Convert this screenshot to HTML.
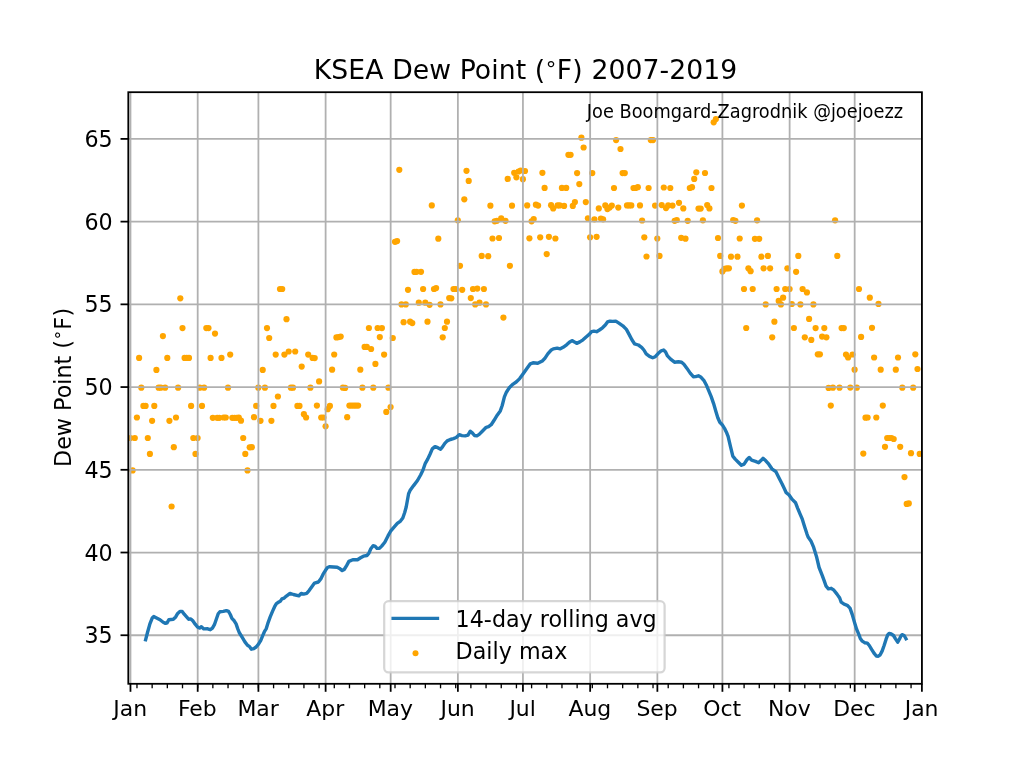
<!DOCTYPE html>
<html lang="en"><head><meta charset="utf-8"><title>KSEA Dew Point</title>
<style>html,body{margin:0;padding:0;background:#fff;overflow:hidden}svg{display:block}text{font-family:'DejaVu Sans','Liberation Sans',sans-serif;fill:#000}</style></head><body>
<svg width="1024" height="768" viewBox="0 0 1024 768">
<rect width="1024" height="768" fill="#fff"/>
<clipPath id="c"><rect x="128.30" y="92.20" width="793.60" height="591.60"/></clipPath>
<g clip-path="url(#c)" fill="#ffa500">
<circle cx="130.4" cy="438.0" r="3.1"/>
<circle cx="132.6" cy="470.4" r="3.1"/>
<circle cx="134.8" cy="438.0" r="3.1"/>
<circle cx="136.9" cy="417.5" r="3.1"/>
<circle cx="139.1" cy="357.9" r="3.1"/>
<circle cx="141.3" cy="387.7" r="3.1"/>
<circle cx="143.4" cy="405.9" r="3.1"/>
<circle cx="145.6" cy="405.9" r="3.1"/>
<circle cx="147.8" cy="438.0" r="3.1"/>
<circle cx="149.9" cy="453.9" r="3.1"/>
<circle cx="152.1" cy="420.8" r="3.1"/>
<circle cx="154.3" cy="405.9" r="3.1"/>
<circle cx="156.4" cy="369.9" r="3.1"/>
<circle cx="158.6" cy="387.7" r="3.1"/>
<circle cx="160.8" cy="387.7" r="3.1"/>
<circle cx="162.9" cy="336.1" r="3.1"/>
<circle cx="165.1" cy="387.7" r="3.1"/>
<circle cx="167.3" cy="357.9" r="3.1"/>
<circle cx="169.4" cy="420.8" r="3.1"/>
<circle cx="171.6" cy="506.5" r="3.1"/>
<circle cx="173.8" cy="447.2" r="3.1"/>
<circle cx="176.0" cy="417.5" r="3.1"/>
<circle cx="178.1" cy="387.7" r="3.1"/>
<circle cx="180.3" cy="298.3" r="3.1"/>
<circle cx="182.5" cy="328.1" r="3.1"/>
<circle cx="184.6" cy="357.9" r="3.1"/>
<circle cx="186.8" cy="357.9" r="3.1"/>
<circle cx="189.0" cy="357.9" r="3.1"/>
<circle cx="191.1" cy="405.9" r="3.1"/>
<circle cx="193.3" cy="438.0" r="3.1"/>
<circle cx="195.5" cy="453.9" r="3.1"/>
<circle cx="197.6" cy="438.0" r="3.1"/>
<circle cx="199.8" cy="387.7" r="3.1"/>
<circle cx="202.0" cy="405.9" r="3.1"/>
<circle cx="204.1" cy="387.7" r="3.1"/>
<circle cx="206.3" cy="328.1" r="3.1"/>
<circle cx="208.5" cy="328.1" r="3.1"/>
<circle cx="210.6" cy="357.9" r="3.1"/>
<circle cx="212.8" cy="417.8" r="3.1"/>
<circle cx="215.0" cy="333.6" r="3.1"/>
<circle cx="217.2" cy="417.8" r="3.1"/>
<circle cx="219.3" cy="417.8" r="3.1"/>
<circle cx="221.5" cy="357.9" r="3.1"/>
<circle cx="223.7" cy="417.5" r="3.1"/>
<circle cx="225.8" cy="417.5" r="3.1"/>
<circle cx="228.0" cy="387.7" r="3.1"/>
<circle cx="230.2" cy="354.6" r="3.1"/>
<circle cx="232.3" cy="417.8" r="3.1"/>
<circle cx="234.5" cy="417.8" r="3.1"/>
<circle cx="236.7" cy="417.8" r="3.1"/>
<circle cx="238.8" cy="417.5" r="3.1"/>
<circle cx="241.0" cy="420.7" r="3.1"/>
<circle cx="243.2" cy="438.0" r="3.1"/>
<circle cx="245.3" cy="453.9" r="3.1"/>
<circle cx="247.5" cy="470.4" r="3.1"/>
<circle cx="249.7" cy="447.3" r="3.1"/>
<circle cx="251.8" cy="447.2" r="3.1"/>
<circle cx="254.0" cy="417.2" r="3.1"/>
<circle cx="256.2" cy="405.9" r="3.1"/>
<circle cx="258.3" cy="387.7" r="3.1"/>
<circle cx="260.5" cy="420.8" r="3.1"/>
<circle cx="262.7" cy="369.9" r="3.1"/>
<circle cx="264.9" cy="387.7" r="3.1"/>
<circle cx="267.0" cy="328.1" r="3.1"/>
<circle cx="269.2" cy="338.0" r="3.1"/>
<circle cx="271.4" cy="420.8" r="3.1"/>
<circle cx="273.5" cy="405.9" r="3.1"/>
<circle cx="275.7" cy="354.6" r="3.1"/>
<circle cx="277.9" cy="396.5" r="3.1"/>
<circle cx="280.0" cy="289.0" r="3.1"/>
<circle cx="282.2" cy="289.0" r="3.1"/>
<circle cx="284.4" cy="354.6" r="3.1"/>
<circle cx="286.5" cy="319.2" r="3.1"/>
<circle cx="288.7" cy="351.5" r="3.1"/>
<circle cx="290.9" cy="387.7" r="3.1"/>
<circle cx="293.0" cy="387.7" r="3.1"/>
<circle cx="295.2" cy="351.5" r="3.1"/>
<circle cx="297.4" cy="405.9" r="3.1"/>
<circle cx="299.5" cy="405.9" r="3.1"/>
<circle cx="301.7" cy="366.6" r="3.1"/>
<circle cx="303.9" cy="414.2" r="3.1"/>
<circle cx="306.1" cy="417.5" r="3.1"/>
<circle cx="308.2" cy="354.6" r="3.1"/>
<circle cx="310.4" cy="387.7" r="3.1"/>
<circle cx="312.6" cy="357.9" r="3.1"/>
<circle cx="314.7" cy="358.1" r="3.1"/>
<circle cx="316.9" cy="405.6" r="3.1"/>
<circle cx="319.1" cy="381.4" r="3.1"/>
<circle cx="321.2" cy="417.5" r="3.1"/>
<circle cx="323.4" cy="417.5" r="3.1"/>
<circle cx="325.6" cy="426.3" r="3.1"/>
<circle cx="327.7" cy="409.2" r="3.1"/>
<circle cx="329.9" cy="405.9" r="3.1"/>
<circle cx="332.1" cy="369.7" r="3.1"/>
<circle cx="334.2" cy="354.5" r="3.1"/>
<circle cx="336.4" cy="337.4" r="3.1"/>
<circle cx="338.6" cy="337.1" r="3.1"/>
<circle cx="340.7" cy="336.6" r="3.1"/>
<circle cx="342.9" cy="387.7" r="3.1"/>
<circle cx="345.1" cy="387.9" r="3.1"/>
<circle cx="347.2" cy="417.2" r="3.1"/>
<circle cx="349.4" cy="405.6" r="3.1"/>
<circle cx="351.6" cy="405.6" r="3.1"/>
<circle cx="353.8" cy="405.6" r="3.1"/>
<circle cx="355.9" cy="405.6" r="3.1"/>
<circle cx="358.1" cy="405.6" r="3.1"/>
<circle cx="360.3" cy="369.7" r="3.1"/>
<circle cx="362.4" cy="387.7" r="3.1"/>
<circle cx="364.6" cy="346.9" r="3.1"/>
<circle cx="366.8" cy="346.9" r="3.1"/>
<circle cx="368.9" cy="328.0" r="3.1"/>
<circle cx="371.1" cy="349.0" r="3.1"/>
<circle cx="373.3" cy="387.7" r="3.1"/>
<circle cx="375.4" cy="363.9" r="3.1"/>
<circle cx="377.6" cy="328.0" r="3.1"/>
<circle cx="379.8" cy="337.1" r="3.1"/>
<circle cx="381.9" cy="328.1" r="3.1"/>
<circle cx="384.1" cy="354.6" r="3.1"/>
<circle cx="386.3" cy="411.9" r="3.1"/>
<circle cx="388.4" cy="387.7" r="3.1"/>
<circle cx="390.6" cy="407.1" r="3.1"/>
<circle cx="392.8" cy="338.0" r="3.1"/>
<circle cx="395.0" cy="241.8" r="3.1"/>
<circle cx="397.1" cy="241.1" r="3.1"/>
<circle cx="399.3" cy="169.8" r="3.1"/>
<circle cx="401.5" cy="304.4" r="3.1"/>
<circle cx="403.6" cy="322.2" r="3.1"/>
<circle cx="405.8" cy="304.4" r="3.1"/>
<circle cx="408.0" cy="289.8" r="3.1"/>
<circle cx="410.1" cy="321.7" r="3.1"/>
<circle cx="412.3" cy="323.1" r="3.1"/>
<circle cx="414.5" cy="271.9" r="3.1"/>
<circle cx="416.6" cy="271.8" r="3.1"/>
<circle cx="418.8" cy="302.7" r="3.1"/>
<circle cx="421.0" cy="271.8" r="3.1"/>
<circle cx="423.1" cy="289.0" r="3.1"/>
<circle cx="425.3" cy="302.7" r="3.1"/>
<circle cx="427.5" cy="321.7" r="3.1"/>
<circle cx="429.6" cy="304.8" r="3.1"/>
<circle cx="431.8" cy="205.4" r="3.1"/>
<circle cx="434.0" cy="289.0" r="3.1"/>
<circle cx="436.1" cy="288.1" r="3.1"/>
<circle cx="438.3" cy="238.7" r="3.1"/>
<circle cx="440.5" cy="304.4" r="3.1"/>
<circle cx="442.7" cy="337.3" r="3.1"/>
<circle cx="444.8" cy="328.0" r="3.1"/>
<circle cx="447.0" cy="321.7" r="3.1"/>
<circle cx="449.2" cy="298.1" r="3.1"/>
<circle cx="451.3" cy="298.3" r="3.1"/>
<circle cx="453.5" cy="289.0" r="3.1"/>
<circle cx="455.7" cy="289.0" r="3.1"/>
<circle cx="457.8" cy="220.3" r="3.1"/>
<circle cx="460.0" cy="265.8" r="3.1"/>
<circle cx="462.2" cy="289.8" r="3.1"/>
<circle cx="464.3" cy="199.3" r="3.1"/>
<circle cx="466.5" cy="170.8" r="3.1"/>
<circle cx="468.7" cy="180.9" r="3.1"/>
<circle cx="470.8" cy="298.1" r="3.1"/>
<circle cx="473.0" cy="289.0" r="3.1"/>
<circle cx="475.2" cy="304.4" r="3.1"/>
<circle cx="477.3" cy="288.6" r="3.1"/>
<circle cx="479.5" cy="302.7" r="3.1"/>
<circle cx="481.7" cy="255.9" r="3.1"/>
<circle cx="483.9" cy="289.0" r="3.1"/>
<circle cx="486.0" cy="304.4" r="3.1"/>
<circle cx="488.2" cy="256.2" r="3.1"/>
<circle cx="490.4" cy="205.7" r="3.1"/>
<circle cx="492.5" cy="238.5" r="3.1"/>
<circle cx="494.7" cy="221.3" r="3.1"/>
<circle cx="496.9" cy="220.8" r="3.1"/>
<circle cx="499.0" cy="238.0" r="3.1"/>
<circle cx="501.2" cy="218.3" r="3.1"/>
<circle cx="503.4" cy="317.6" r="3.1"/>
<circle cx="505.5" cy="220.8" r="3.1"/>
<circle cx="507.7" cy="178.9" r="3.1"/>
<circle cx="509.9" cy="265.8" r="3.1"/>
<circle cx="512.0" cy="205.7" r="3.1"/>
<circle cx="514.2" cy="172.8" r="3.1"/>
<circle cx="516.4" cy="177.3" r="3.1"/>
<circle cx="518.5" cy="171.5" r="3.1"/>
<circle cx="520.7" cy="170.5" r="3.1"/>
<circle cx="522.9" cy="179.2" r="3.1"/>
<circle cx="525.0" cy="171.0" r="3.1"/>
<circle cx="527.2" cy="205.4" r="3.1"/>
<circle cx="529.4" cy="238.3" r="3.1"/>
<circle cx="531.6" cy="221.3" r="3.1"/>
<circle cx="533.7" cy="219.0" r="3.1"/>
<circle cx="535.9" cy="204.7" r="3.1"/>
<circle cx="538.1" cy="205.6" r="3.1"/>
<circle cx="540.2" cy="237.3" r="3.1"/>
<circle cx="542.4" cy="172.8" r="3.1"/>
<circle cx="544.6" cy="187.9" r="3.1"/>
<circle cx="546.7" cy="254.1" r="3.1"/>
<circle cx="548.9" cy="236.8" r="3.1"/>
<circle cx="551.1" cy="205.2" r="3.1"/>
<circle cx="553.2" cy="208.4" r="3.1"/>
<circle cx="555.4" cy="238.5" r="3.1"/>
<circle cx="557.6" cy="205.4" r="3.1"/>
<circle cx="559.7" cy="205.4" r="3.1"/>
<circle cx="561.9" cy="187.9" r="3.1"/>
<circle cx="564.1" cy="205.9" r="3.1"/>
<circle cx="566.2" cy="187.9" r="3.1"/>
<circle cx="568.4" cy="154.8" r="3.1"/>
<circle cx="570.6" cy="154.8" r="3.1"/>
<circle cx="572.8" cy="205.9" r="3.1"/>
<circle cx="574.9" cy="202.1" r="3.1"/>
<circle cx="577.1" cy="173.1" r="3.1"/>
<circle cx="579.3" cy="184.1" r="3.1"/>
<circle cx="581.4" cy="137.7" r="3.1"/>
<circle cx="583.6" cy="147.5" r="3.1"/>
<circle cx="585.8" cy="202.1" r="3.1"/>
<circle cx="587.9" cy="218.3" r="3.1"/>
<circle cx="590.1" cy="237.3" r="3.1"/>
<circle cx="592.3" cy="173.1" r="3.1"/>
<circle cx="594.4" cy="219.3" r="3.1"/>
<circle cx="596.6" cy="236.8" r="3.1"/>
<circle cx="598.8" cy="208.4" r="3.1"/>
<circle cx="600.9" cy="218.5" r="3.1"/>
<circle cx="603.1" cy="219.3" r="3.1"/>
<circle cx="605.3" cy="205.4" r="3.1"/>
<circle cx="607.4" cy="209.1" r="3.1"/>
<circle cx="609.6" cy="207.6" r="3.1"/>
<circle cx="611.8" cy="205.6" r="3.1"/>
<circle cx="614.0" cy="188.0" r="3.1"/>
<circle cx="616.1" cy="140.1" r="3.1"/>
<circle cx="618.3" cy="207.6" r="3.1"/>
<circle cx="620.5" cy="149.0" r="3.1"/>
<circle cx="622.6" cy="173.1" r="3.1"/>
<circle cx="624.8" cy="173.1" r="3.1"/>
<circle cx="627.0" cy="205.4" r="3.1"/>
<circle cx="629.1" cy="205.4" r="3.1"/>
<circle cx="631.3" cy="205.4" r="3.1"/>
<circle cx="633.5" cy="188.0" r="3.1"/>
<circle cx="635.6" cy="188.0" r="3.1"/>
<circle cx="637.8" cy="187.2" r="3.1"/>
<circle cx="640.0" cy="205.4" r="3.1"/>
<circle cx="642.1" cy="220.5" r="3.1"/>
<circle cx="644.3" cy="237.3" r="3.1"/>
<circle cx="646.5" cy="256.5" r="3.1"/>
<circle cx="648.6" cy="188.0" r="3.1"/>
<circle cx="650.8" cy="140.1" r="3.1"/>
<circle cx="653.0" cy="140.1" r="3.1"/>
<circle cx="655.1" cy="205.6" r="3.1"/>
<circle cx="657.3" cy="238.5" r="3.1"/>
<circle cx="659.5" cy="255.9" r="3.1"/>
<circle cx="661.7" cy="205.1" r="3.1"/>
<circle cx="663.8" cy="187.5" r="3.1"/>
<circle cx="666.0" cy="208.1" r="3.1"/>
<circle cx="668.2" cy="205.4" r="3.1"/>
<circle cx="670.3" cy="188.0" r="3.1"/>
<circle cx="672.5" cy="205.6" r="3.1"/>
<circle cx="674.7" cy="220.8" r="3.1"/>
<circle cx="676.8" cy="220.0" r="3.1"/>
<circle cx="679.0" cy="202.8" r="3.1"/>
<circle cx="681.2" cy="237.8" r="3.1"/>
<circle cx="683.3" cy="208.4" r="3.1"/>
<circle cx="685.5" cy="238.7" r="3.1"/>
<circle cx="687.7" cy="220.8" r="3.1"/>
<circle cx="689.8" cy="188.0" r="3.1"/>
<circle cx="692.0" cy="187.2" r="3.1"/>
<circle cx="694.2" cy="178.9" r="3.1"/>
<circle cx="696.3" cy="172.3" r="3.1"/>
<circle cx="698.5" cy="208.6" r="3.1"/>
<circle cx="700.7" cy="208.6" r="3.1"/>
<circle cx="702.9" cy="220.3" r="3.1"/>
<circle cx="705.0" cy="173.0" r="3.1"/>
<circle cx="707.2" cy="205.1" r="3.1"/>
<circle cx="709.4" cy="208.4" r="3.1"/>
<circle cx="711.5" cy="188.0" r="3.1"/>
<circle cx="713.7" cy="122.3" r="3.1"/>
<circle cx="715.9" cy="119.0" r="3.1"/>
<circle cx="718.0" cy="238.0" r="3.1"/>
<circle cx="720.2" cy="255.9" r="3.1"/>
<circle cx="722.4" cy="271.4" r="3.1"/>
<circle cx="724.5" cy="268.8" r="3.1"/>
<circle cx="726.7" cy="268.4" r="3.1"/>
<circle cx="728.9" cy="268.3" r="3.1"/>
<circle cx="731.0" cy="256.7" r="3.1"/>
<circle cx="733.2" cy="220.0" r="3.1"/>
<circle cx="735.4" cy="220.8" r="3.1"/>
<circle cx="737.5" cy="256.7" r="3.1"/>
<circle cx="739.7" cy="238.5" r="3.1"/>
<circle cx="741.9" cy="205.6" r="3.1"/>
<circle cx="744.0" cy="289.0" r="3.1"/>
<circle cx="746.2" cy="328.0" r="3.1"/>
<circle cx="748.4" cy="268.3" r="3.1"/>
<circle cx="750.6" cy="271.2" r="3.1"/>
<circle cx="752.7" cy="289.0" r="3.1"/>
<circle cx="754.9" cy="238.8" r="3.1"/>
<circle cx="757.1" cy="220.3" r="3.1"/>
<circle cx="759.2" cy="238.8" r="3.1"/>
<circle cx="761.4" cy="256.7" r="3.1"/>
<circle cx="763.6" cy="268.3" r="3.1"/>
<circle cx="765.7" cy="304.4" r="3.1"/>
<circle cx="767.9" cy="255.9" r="3.1"/>
<circle cx="770.1" cy="268.3" r="3.1"/>
<circle cx="772.2" cy="337.3" r="3.1"/>
<circle cx="774.4" cy="321.7" r="3.1"/>
<circle cx="776.6" cy="289.0" r="3.1"/>
<circle cx="778.7" cy="300.9" r="3.1"/>
<circle cx="780.9" cy="304.4" r="3.1"/>
<circle cx="783.1" cy="297.7" r="3.1"/>
<circle cx="785.2" cy="289.0" r="3.1"/>
<circle cx="787.4" cy="268.3" r="3.1"/>
<circle cx="789.6" cy="289.0" r="3.1"/>
<circle cx="791.8" cy="304.0" r="3.1"/>
<circle cx="793.9" cy="328.0" r="3.1"/>
<circle cx="796.1" cy="271.8" r="3.1"/>
<circle cx="798.3" cy="255.9" r="3.1"/>
<circle cx="800.4" cy="304.4" r="3.1"/>
<circle cx="802.6" cy="289.0" r="3.1"/>
<circle cx="804.8" cy="337.3" r="3.1"/>
<circle cx="806.9" cy="292.4" r="3.1"/>
<circle cx="809.1" cy="318.9" r="3.1"/>
<circle cx="811.3" cy="339.9" r="3.1"/>
<circle cx="813.4" cy="304.4" r="3.1"/>
<circle cx="815.6" cy="328.1" r="3.1"/>
<circle cx="817.8" cy="354.3" r="3.1"/>
<circle cx="819.9" cy="354.3" r="3.1"/>
<circle cx="822.1" cy="336.6" r="3.1"/>
<circle cx="824.3" cy="328.1" r="3.1"/>
<circle cx="826.4" cy="337.3" r="3.1"/>
<circle cx="828.6" cy="387.9" r="3.1"/>
<circle cx="830.8" cy="405.6" r="3.1"/>
<circle cx="832.9" cy="387.7" r="3.1"/>
<circle cx="835.1" cy="220.3" r="3.1"/>
<circle cx="837.3" cy="255.9" r="3.1"/>
<circle cx="839.5" cy="387.7" r="3.1"/>
<circle cx="841.6" cy="328.1" r="3.1"/>
<circle cx="843.8" cy="328.1" r="3.1"/>
<circle cx="846.0" cy="354.5" r="3.1"/>
<circle cx="848.1" cy="357.5" r="3.1"/>
<circle cx="850.3" cy="387.6" r="3.1"/>
<circle cx="852.5" cy="354.5" r="3.1"/>
<circle cx="854.6" cy="369.7" r="3.1"/>
<circle cx="856.8" cy="387.7" r="3.1"/>
<circle cx="859.0" cy="289.0" r="3.1"/>
<circle cx="861.1" cy="336.9" r="3.1"/>
<circle cx="863.3" cy="453.6" r="3.1"/>
<circle cx="865.5" cy="417.7" r="3.1"/>
<circle cx="867.6" cy="417.5" r="3.1"/>
<circle cx="869.8" cy="297.7" r="3.1"/>
<circle cx="872.0" cy="327.8" r="3.1"/>
<circle cx="874.1" cy="357.5" r="3.1"/>
<circle cx="876.3" cy="417.5" r="3.1"/>
<circle cx="878.5" cy="303.9" r="3.1"/>
<circle cx="880.7" cy="369.7" r="3.1"/>
<circle cx="882.8" cy="405.6" r="3.1"/>
<circle cx="885.0" cy="446.8" r="3.1"/>
<circle cx="887.2" cy="438.0" r="3.1"/>
<circle cx="889.3" cy="438.0" r="3.1"/>
<circle cx="891.5" cy="438.0" r="3.1"/>
<circle cx="893.7" cy="439.0" r="3.1"/>
<circle cx="895.8" cy="369.7" r="3.1"/>
<circle cx="898.0" cy="357.5" r="3.1"/>
<circle cx="900.2" cy="446.8" r="3.1"/>
<circle cx="902.3" cy="387.7" r="3.1"/>
<circle cx="904.5" cy="477.1" r="3.1"/>
<circle cx="906.7" cy="503.9" r="3.1"/>
<circle cx="908.8" cy="503.4" r="3.1"/>
<circle cx="911.0" cy="453.2" r="3.1"/>
<circle cx="913.2" cy="387.7" r="3.1"/>
<circle cx="915.3" cy="354.3" r="3.1"/>
<circle cx="917.5" cy="369.0" r="3.1"/>
<circle cx="919.7" cy="453.9" r="3.1"/>
</g>
<g stroke="#b0b0b0" stroke-width="1.78" fill="none">
<line x1="130.47" y1="92.20" x2="130.47" y2="683.80"/>
<line x1="197.69" y1="92.20" x2="197.69" y2="683.80"/>
<line x1="258.40" y1="92.20" x2="258.40" y2="683.80"/>
<line x1="325.62" y1="92.20" x2="325.62" y2="683.80"/>
<line x1="390.67" y1="92.20" x2="390.67" y2="683.80"/>
<line x1="457.88" y1="92.20" x2="457.88" y2="683.80"/>
<line x1="522.93" y1="92.20" x2="522.93" y2="683.80"/>
<line x1="590.15" y1="92.20" x2="590.15" y2="683.80"/>
<line x1="657.37" y1="92.20" x2="657.37" y2="683.80"/>
<line x1="722.42" y1="92.20" x2="722.42" y2="683.80"/>
<line x1="789.63" y1="92.20" x2="789.63" y2="683.80"/>
<line x1="854.68" y1="92.20" x2="854.68" y2="683.80"/>
<line x1="921.90" y1="92.20" x2="921.90" y2="683.80"/>
<line x1="128.30" y1="635.25" x2="921.90" y2="635.25"/>
<line x1="128.30" y1="552.52" x2="921.90" y2="552.52"/>
<line x1="128.30" y1="469.80" x2="921.90" y2="469.80"/>
<line x1="128.30" y1="387.07" x2="921.90" y2="387.07"/>
<line x1="128.30" y1="304.35" x2="921.90" y2="304.35"/>
<line x1="128.30" y1="221.62" x2="921.90" y2="221.62"/>
<line x1="128.30" y1="138.90" x2="921.90" y2="138.90"/>
</g>
<polyline clip-path="url(#c)" points="145.2,641.4 147.5,632.5 149.9,623.9 152.2,618.1 153.8,616.6 156.1,617.7 160.0,619.7 163.2,622.3 165.5,623.4 167.1,622.8 168.9,619.7 173.3,619.2 175.7,616.9 177.7,613.4 179.9,611.4 182.2,611.4 184.2,614.2 186.6,616.9 188.6,619.2 190.8,618.9 192.8,620.8 195.2,624.2 197.5,627.0 199.6,628.1 201.4,626.7 203.8,628.9 207.7,628.8 210.3,629.7 212.4,628.1 214.4,624.7 216.3,619.2 218.2,613.8 219.9,611.7 223.3,611.4 226.4,610.6 228.5,611.4 230.3,614.5 231.9,618.4 234.2,620.8 236.1,623.9 237.7,628.6 239.2,632.5 242.1,637.2 244.9,641.9 247.5,645.3 249.6,646.6 251.4,649.2 253.8,648.6 256.1,647.0 258.5,644.2 260.8,640.3 262.7,635.6 264.4,631.7 266.3,628.6 268.2,622.3 270.2,616.9 272.5,611.4 274.6,606.7 276.4,603.6 278.8,602.0 280.3,601.2 281.9,598.9 284.2,598.1 286.4,596.1 290.0,593.4 293.4,594.5 298.9,595.8 301.2,593.4 303.6,594.1 306.7,593.3 309.1,590.6 312.2,586.2 314.5,583.1 318.4,582.0 320.8,578.9 323.1,574.2 325.5,570.3 327.5,567.5 329.7,566.7 337.2,567.2 339.5,568.4 342.2,570.6 344.2,569.5 346.6,565.6 348.9,561.4 352.8,559.7 357.5,559.8 360.6,557.8 363.4,556.2 366.9,555.5 368.8,553.4 370.8,548.8 373.1,545.8 375.0,546.1 377.0,548.4 379.4,548.4 381.7,546.1 384.8,542.2 388.0,535.9 390.6,531.2 393.4,527.8 397.3,523.4 400.5,521.1 402.8,518.0 404.7,512.5 406.2,507.0 408.6,493.8 410.0,490.6 413.6,485.6 417.5,480.5 420.6,475.0 423.0,470.0 425.3,463.3 427.7,459.1 430.0,454.2 432.3,448.9 435.0,446.6 437.8,447.7 440.6,449.2 442.5,446.9 444.8,443.4 447.2,440.9 450.3,439.5 453.4,438.6 456.2,437.5 459.2,434.7 462.0,435.6 465.2,435.9 468.0,435.2 470.3,431.2 472.5,433.1 474.5,435.5 476.9,435.9 479.2,434.4 482.3,431.2 486.2,427.3 488.6,426.6 491.2,424.7 494.1,420.3 497.2,415.2 500.3,410.9 502.2,405.5 504.4,396.9 506.4,392.2 509.5,387.5 513.1,384.1 516.2,382.0 519.7,378.6 522.8,374.2 526.7,368.8 530.3,363.8 533.0,362.8 537.7,363.3 542.3,360.9 544.7,358.6 547.8,353.9 550.9,350.3 553.3,348.9 557.2,348.1 560.3,348.8 563.1,347.3 566.6,344.8 569.4,342.2 572.0,340.6 574.4,341.9 576.7,343.4 579.8,341.9 583.0,339.8 586.1,337.0 589.2,334.4 591.6,331.7 593.9,331.2 596.6,331.7 599.4,330.0 602.5,327.8 605.3,325.0 607.5,321.9 610.0,321.1 612.7,321.4 615.8,321.1 618.9,323.1 622.8,325.8 626.4,329.4 629.1,334.4 631.9,339.8 634.5,343.8 638.4,345.0 641.6,347.3 643.9,350.0 646.2,353.9 649.5,356.4 652.7,357.8 655.3,356.7 658.1,353.6 661.2,350.8 663.6,350.0 665.6,352.0 667.5,355.9 670.6,359.1 674.5,362.2 678.4,361.7 681.6,362.2 683.9,364.2 687.0,368.4 690.2,373.1 693.3,376.7 695.6,376.6 698.4,375.8 701.1,377.3 704.2,380.9 706.6,385.6 708.9,391.1 711.2,396.6 713.6,403.6 715.9,411.4 717.8,417.7 719.8,422.3 722.2,424.7 724.5,428.3 726.9,433.3 728.1,436.4 730.5,446.6 732.8,456.2 735.2,459.1 738.3,462.2 741.4,465.3 744.1,464.1 746.9,459.8 749.2,457.5 751.6,460.2 755.5,461.4 758.6,462.7 760.9,460.6 763.0,458.3 765.6,460.6 768.8,464.2 771.9,468.8 775.8,471.6 778.9,477.8 782.0,483.8 784.4,488.8 786.2,492.7 789.1,495.0 792.2,499.4 795.6,502.8 797.7,508.3 800.0,513.8 802.3,519.2 804.7,527.0 807.0,534.1 808.1,537.0 810.9,540.9 813.6,547.2 816.7,557.3 819.1,567.5 822.2,575.3 824.5,581.6 826.1,586.2 828.4,588.9 831.2,588.3 833.9,590.2 837.0,594.1 839.7,598.0 841.2,602.2 844.1,604.2 847.2,605.3 850.0,608.1 852.2,614.4 854.2,621.4 856.6,629.2 858.9,634.7 860.3,638.4 862.3,641.2 864.6,642.7 867.3,643.1 869.3,645.5 871.6,649.4 874.4,653.7 876.3,656.0 878.3,656.2 880.2,654.8 882.2,650.9 884.1,645.5 886.1,639.2 887.7,634.9 889.1,633.4 891.2,634.0 893.5,635.5 895.5,638.8 897.7,642.2 899.4,639.2 900.9,636.1 902.1,634.7 904.1,635.5 905.6,638.0 906.8,640.2" fill="none" stroke="#1f77b4" stroke-width="3.4" stroke-linejoin="round" stroke-linecap="butt"/>
<text transform="translate(903.05,118.35) scale(1,1.06)" text-anchor="end" font-size="17.78">Joe Boomgard-Zagrodnik @joejoezz</text>
<rect x="128.30" y="92.20" width="793.60" height="591.60" fill="none" stroke="#000" stroke-width="1.78"/>
<g stroke="#000" stroke-width="1.78">
<line x1="130.47" y1="683.80" x2="130.47" y2="691.80"/>
<line x1="197.69" y1="683.80" x2="197.69" y2="691.80"/>
<line x1="258.40" y1="683.80" x2="258.40" y2="691.80"/>
<line x1="325.62" y1="683.80" x2="325.62" y2="691.80"/>
<line x1="390.67" y1="683.80" x2="390.67" y2="691.80"/>
<line x1="457.88" y1="683.80" x2="457.88" y2="691.80"/>
<line x1="522.93" y1="683.80" x2="522.93" y2="691.80"/>
<line x1="590.15" y1="683.80" x2="590.15" y2="691.80"/>
<line x1="657.37" y1="683.80" x2="657.37" y2="691.80"/>
<line x1="722.42" y1="683.80" x2="722.42" y2="691.80"/>
<line x1="789.63" y1="683.80" x2="789.63" y2="691.80"/>
<line x1="854.68" y1="683.80" x2="854.68" y2="691.80"/>
<line x1="921.90" y1="683.80" x2="921.90" y2="691.80"/>
<line x1="120.52" y1="635.25" x2="128.30" y2="635.25"/>
<line x1="120.52" y1="552.52" x2="128.30" y2="552.52"/>
<line x1="120.52" y1="469.80" x2="128.30" y2="469.80"/>
<line x1="120.52" y1="387.07" x2="128.30" y2="387.07"/>
<line x1="120.52" y1="304.35" x2="128.30" y2="304.35"/>
<line x1="120.52" y1="221.62" x2="128.30" y2="221.62"/>
<line x1="120.52" y1="138.90" x2="128.30" y2="138.90"/>
</g>
<g stroke="#000" stroke-width="1.33">
<line x1="136.97" y1="683.80" x2="136.97" y2="688.30"/>
<line x1="152.15" y1="683.80" x2="152.15" y2="688.30"/>
<line x1="167.33" y1="683.80" x2="167.33" y2="688.30"/>
<line x1="182.51" y1="683.80" x2="182.51" y2="688.30"/>
<line x1="197.69" y1="683.80" x2="197.69" y2="688.30"/>
<line x1="212.86" y1="683.80" x2="212.86" y2="688.30"/>
<line x1="228.04" y1="683.80" x2="228.04" y2="688.30"/>
<line x1="243.22" y1="683.80" x2="243.22" y2="688.30"/>
<line x1="258.40" y1="683.80" x2="258.40" y2="688.30"/>
<line x1="273.58" y1="683.80" x2="273.58" y2="688.30"/>
<line x1="288.75" y1="683.80" x2="288.75" y2="688.30"/>
<line x1="303.93" y1="683.80" x2="303.93" y2="688.30"/>
<line x1="319.11" y1="683.80" x2="319.11" y2="688.30"/>
<line x1="334.29" y1="683.80" x2="334.29" y2="688.30"/>
<line x1="349.47" y1="683.80" x2="349.47" y2="688.30"/>
<line x1="364.65" y1="683.80" x2="364.65" y2="688.30"/>
<line x1="379.82" y1="683.80" x2="379.82" y2="688.30"/>
<line x1="395.00" y1="683.80" x2="395.00" y2="688.30"/>
<line x1="410.18" y1="683.80" x2="410.18" y2="688.30"/>
<line x1="425.36" y1="683.80" x2="425.36" y2="688.30"/>
<line x1="440.54" y1="683.80" x2="440.54" y2="688.30"/>
<line x1="455.71" y1="683.80" x2="455.71" y2="688.30"/>
<line x1="470.89" y1="683.80" x2="470.89" y2="688.30"/>
<line x1="486.07" y1="683.80" x2="486.07" y2="688.30"/>
<line x1="501.25" y1="683.80" x2="501.25" y2="688.30"/>
<line x1="516.43" y1="683.80" x2="516.43" y2="688.30"/>
<line x1="531.60" y1="683.80" x2="531.60" y2="688.30"/>
<line x1="546.78" y1="683.80" x2="546.78" y2="688.30"/>
<line x1="561.96" y1="683.80" x2="561.96" y2="688.30"/>
<line x1="577.14" y1="683.80" x2="577.14" y2="688.30"/>
<line x1="592.32" y1="683.80" x2="592.32" y2="688.30"/>
<line x1="607.50" y1="683.80" x2="607.50" y2="688.30"/>
<line x1="622.67" y1="683.80" x2="622.67" y2="688.30"/>
<line x1="637.85" y1="683.80" x2="637.85" y2="688.30"/>
<line x1="653.03" y1="683.80" x2="653.03" y2="688.30"/>
<line x1="668.21" y1="683.80" x2="668.21" y2="688.30"/>
<line x1="683.39" y1="683.80" x2="683.39" y2="688.30"/>
<line x1="698.56" y1="683.80" x2="698.56" y2="688.30"/>
<line x1="713.74" y1="683.80" x2="713.74" y2="688.30"/>
<line x1="728.92" y1="683.80" x2="728.92" y2="688.30"/>
<line x1="744.10" y1="683.80" x2="744.10" y2="688.30"/>
<line x1="759.28" y1="683.80" x2="759.28" y2="688.30"/>
<line x1="774.46" y1="683.80" x2="774.46" y2="688.30"/>
<line x1="789.63" y1="683.80" x2="789.63" y2="688.30"/>
<line x1="804.81" y1="683.80" x2="804.81" y2="688.30"/>
<line x1="819.99" y1="683.80" x2="819.99" y2="688.30"/>
<line x1="835.17" y1="683.80" x2="835.17" y2="688.30"/>
<line x1="850.35" y1="683.80" x2="850.35" y2="688.30"/>
<line x1="865.52" y1="683.80" x2="865.52" y2="688.30"/>
<line x1="880.70" y1="683.80" x2="880.70" y2="688.30"/>
<line x1="895.88" y1="683.80" x2="895.88" y2="688.30"/>
<line x1="911.06" y1="683.80" x2="911.06" y2="688.30"/>
</g>
<g font-size="21.95" text-anchor="middle">
<text x="130.17" y="716.10">Jan</text>
<text x="197.39" y="716.10">Feb</text>
<text x="258.10" y="716.10">Mar</text>
<text x="325.32" y="716.10">Apr</text>
<text x="390.37" y="716.10">May</text>
<text x="457.58" y="716.10">Jun</text>
<text x="522.63" y="716.10">Jul</text>
<text x="589.85" y="716.10">Aug</text>
<text x="657.07" y="716.10">Sep</text>
<text x="722.12" y="716.10">Oct</text>
<text x="789.33" y="716.10">Nov</text>
<text x="854.38" y="716.10">Dec</text>
<text x="921.60" y="716.10">Jan</text>
</g>
<g font-size="22.22" text-anchor="end">
<text x="112.70" y="643.35">35</text>
<text x="112.70" y="560.62">40</text>
<text x="112.70" y="477.90">45</text>
<text x="112.70" y="395.18">50</text>
<text x="112.70" y="312.45">55</text>
<text x="112.70" y="229.72">60</text>
<text x="112.70" y="147.00">65</text>
</g>
<text font-size="22.22" text-anchor="middle" transform="translate(70.8,387.4) rotate(-90)">Dew Point (<tspan font-size="17.6" dy="-3.0" dx="0.6">°</tspan><tspan dy="3.0" dx="0.8 0.6">F)</tspan></text>
<text font-size="26.67" text-anchor="middle" letter-spacing="0.08" x="525.6" y="78.8">KSEA Dew Point (<tspan font-size="21.1" dy="-1.8" dx="0.4">°</tspan><tspan dy="1.8" dx="0.3 0.3 0 0">F) 2007-2019</tspan></text>
<rect x="384.2" y="601.2" width="280.4" height="71.2" rx="4.4" ry="4.4" fill="#fff" fill-opacity="0.8" stroke="#ccc" stroke-opacity="0.8" stroke-width="2.22"/>
<line x1="393.1" y1="618.4" x2="437.5" y2="618.4" stroke="#1f77b4" stroke-width="3.33" stroke-linecap="square"/>
<circle cx="415.5" cy="653.2" r="3.0" fill="#ffa500"/>
<g font-size="22.22"><text x="455.6" y="626.6">14-day rolling avg</text><text x="455.6" y="658.8">Daily max</text></g>
</svg></body></html>
